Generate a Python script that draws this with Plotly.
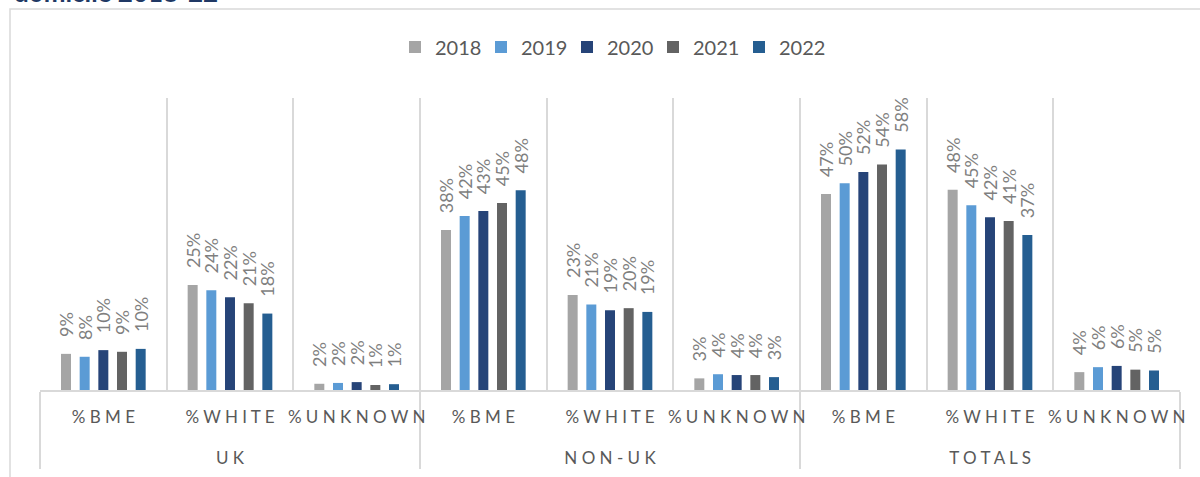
import plotly.graph_objects as go

years = ["2018", "2019", "2020", "2021", "2022"]
groups = ["U K", "N O N - U K", "T O T A L S"]
subcats = ["% B M E", "% W H I T E", "% U N K N O W N"]

# values in percent, per year, in order: UK(BME, WHITE, UNKNOWN), NON-UK(...), TOTALS(...)
v2018 = [8.7, 25.3, 1.5, 38.5, 22.9, 2.8, 47.2, 48.2, 4.3]
v2019 = [8.0, 24.0, 1.7, 41.9, 20.6, 3.8, 49.8, 44.5, 5.5]
v2020 = [9.6, 22.3, 1.9, 43.1, 19.2, 3.6, 52.5, 41.6, 5.8]
v2021 = [9.2, 20.9, 1.2, 45.0, 19.7, 3.6, 54.3, 40.7, 4.9]
v2022 = [9.9, 18.4, 1.4, 48.1, 18.8, 3.1, 57.9, 37.3, 4.7]
labels2018 = ["9%", "25%", "2%", "38%", "23%", "3%", "47%", "48%", "4%"]
labels2019 = ["8%", "24%", "2%", "42%", "21%", "4%", "50%", "45%", "6%"]
labels2020 = ["10%", "22%", "2%", "43%", "19%", "4%", "52%", "42%", "6%"]
labels2021 = ["9%", "21%", "1%", "45%", "20%", "4%", "54%", "41%", "5%"]
labels2022 = ["10%", "18%", "1%", "48%", "19%", "3%", "58%", "37%", "5%"]

colors = ["#A5A5A5", "#5B9BD5", "#264478", "#636363", "#255E91"]

NB = "\u00a0"
xg = [g for g in groups for _ in subcats]
xs = [s + "<br><span style='font-size:42px'>" + NB + "</span>" for _ in groups for s in subcats]

fig = go.Figure()
for yr, vals, labs, col in zip(years,
                               [v2018, v2019, v2020, v2021, v2022],
                               [labels2018, labels2019, labels2020, labels2021, labels2022],
                               colors):
    fig.add_trace(go.Bar(
        x=[xg, xs], y=vals, name=yr, marker_color=col,
        marker_line_width=0,
        text=labs, texttemplate=NB * 3 + "%{text}",
        textposition="outside", textangle=-90,
        textfont=dict(family="Lato", size=18, color="#7F7F7F"),
        cliponaxis=False, constraintext="none",
    ))

W, H = 1200, 477
ml, mr, mt, mb = 40, 20, 98, 87
pw, ph = W - ml - mr, H - mt - mb

def px_x(p):
    return (p - ml) / pw

def px_y(p):
    return 1 - (p - mt) / ph

fig.update_layout(
    width=W, height=H,
    margin=dict(l=ml, r=mr, t=mt, b=mb, autoexpand=False),
    paper_bgcolor="white", plot_bgcolor="white",
    barmode="group", bargap=0.263, bargroupgap=0.465,
    font=dict(family="Lato", color="#595959"),
    showlegend=True,
    legend=dict(orientation="h", x=0.5, xanchor="center",
                y=px_y(47), yanchor="middle", yref="paper",
                font=dict(family="Lato", size=20, color="#595959"),
                itemwidth=30, tracegroupgap=0, entrywidth=41),
    xaxis=dict(type="multicategory", tickson="boundaries", automargin=False,
               tickangle=0, ticklabelstandoff=11,
               showgrid=True, gridcolor="#D9D9D9", gridwidth=2,
               showline=True, linecolor="#D9D9D9", linewidth=2,
               ticks="", showdividers=True, dividercolor="#D9D9D9",
               dividerwidth=2,
               tickfont=dict(family="Lato", size=17, color="#595959")),
    yaxis=dict(range=[0, 70.3], visible=False, showgrid=False, zeroline=False,
               automargin=False),
    uniformtext=dict(mode=False),
)

# outer chart border
fig.add_shape(type="rect", xref="paper", yref="paper",
              x0=px_x(10), x1=px_x(1210), y0=px_y(9), y1=px_y(490),
              line=dict(color="#D9D9D9", width=1.5), fillcolor="rgba(0,0,0,0)",
              layer="below")

# partially visible title
fig.add_annotation(xref="paper", yref="paper", x=px_x(12), y=px_y(10),
                   xanchor="left", yanchor="bottom", showarrow=False,
                   text="<b>domicile 2018-22</b>",
                   font=dict(family="Lato", size=26, color="#203864"))

fig.write_html("out.html", config={"displayModeBar": False},
               post_script="document.body.style.margin='0';document.body.style.overflow='hidden';")
